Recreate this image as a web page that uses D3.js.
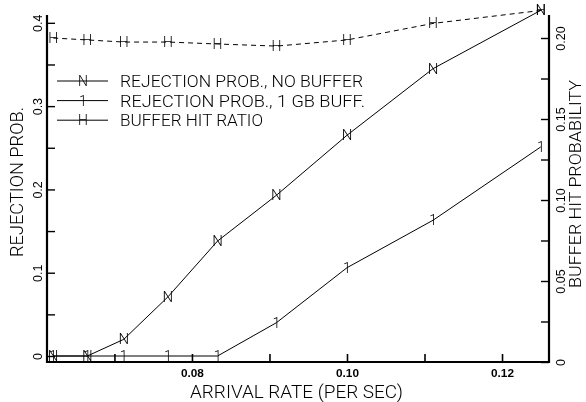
<!DOCTYPE html>
<html>
<head>
<meta charset="utf-8">
<script src="https://cdn.jsdelivr.net/npm/d3@7"></script>
<style>
  html, body { margin: 0; padding: 0; background: #fff; }
  svg { display: block; will-change: transform; }
  text { font-family: Roboto, "Liberation Sans", sans-serif; fill: #000; }
</style>
</head>
<body>
<svg id="chart" width="586" height="402"></svg>
<script>
// Arrival rate (per second) for each simulated load level
const rate = [0.0621, 0.0665, 0.0712, 0.0769, 0.0833, 0.0909, 0.1000, 0.1111, 0.1250];
// Rejection probability without any buffer
const rejectNoBuffer = [0, 0, 0.020, 0.071, 0.138, 0.193, 0.265, 0.345, 0.415];
// Rejection probability with a 1 GB buffer
const rejectBuffer1GB = [0, 0, 0, 0, 0, 0.040, 0.106, 0.163, 0.251];
// Buffer hit ratio (right axis)
const bufferHit = [0.200, 0.1988, 0.1975, 0.1975, 0.1963, 0.195, 0.1988, 0.209, 0.217];

const xMajor = [0.08, 0.10, 0.12];
const xMinor = [0.07, 0.09, 0.11];
const leftMajor = [0, 0.1, 0.2, 0.3, 0.4];
const leftMinor = [0.05, 0.15, 0.25, 0.35];
const rightMajor = [0, 0.05, 0.10, 0.15, 0.20];
const rightMinor = [0.025, 0.075, 0.125, 0.175];

const legendItems = [
  { label: "REJECTION PROB., NO BUFFER", mark: "N", len: 243 },
  { label: "REJECTION PROB., 1 GB BUFF.", mark: "1", len: 245 },
  { label: "BUFFER HIT RATIO", mark: "H", len: 143 }
];

const svg = d3.select("#chart");
const L = 47, R = 549, T = 15, B = 362;

const x = d3.scaleLinear().domain([0.0613, 0.12606]).range([L, R]);
const yL = d3.scaleLinear().domain([-0.0072, 0.4094]).range([B, T]);
const yR = d3.scaleLinear().domain([0, 0.2142]).range([B, T]);

const tickLen = 8;

// Bottom axis: inward ticks, labels below
const gx = svg.append("g").attr("transform", `translate(0,${B})`);
gx.call(d3.axisBottom(x).tickValues(xMajor.concat(xMinor)).tickSize(-tickLen)
  .tickFormat(d => xMajor.includes(d) ? d3.format(".2f")(d) : ""));
gx.select(".domain").remove();
gx.selectAll(".tick line").attr("stroke", "#000").attr("stroke-width", 1.6);
gx.selectAll(".tick text").attr("y", 15).attr("dy", null)
  .style("font-family", "'Liberation Sans', Arial, sans-serif")
  .style("font-weight", "bold").style("font-size", "11px")
  .attr("textLength", 23).attr("lengthAdjust", "spacingAndGlyphs");

// Left axis: inward ticks, rotated labels
const gl = svg.append("g").attr("transform", `translate(${L},0)`);
gl.call(d3.axisLeft(yL).tickValues(leftMajor.concat(leftMinor)).tickSize(-tickLen)
  .tickFormat(d => leftMajor.includes(d) ? (d === 0 ? "0" : d3.format(".1f")(d)) : ""));
gl.select(".domain").remove();
gl.selectAll(".tick line").attr("stroke", "#000").attr("stroke-width", 1.4);
gl.selectAll(".tick text").attr("transform", "rotate(-90)")
  .attr("x", 0).attr("y", -5).attr("dy", null).attr("text-anchor", "middle")
  .style("font-family", "'Liberation Sans', Arial, sans-serif").style("font-size", "12.5px");

// Right axis: inward ticks, rotated labels
const gr = svg.append("g").attr("transform", `translate(${R},0)`);
gr.call(d3.axisRight(yR).tickValues(rightMajor.concat(rightMinor)).tickSize(-tickLen)
  .tickFormat(d => rightMajor.includes(d) ? (d === 0 ? "0" : d3.format(".2f")(d)) : ""));
gr.select(".domain").remove();
gr.selectAll(".tick line").attr("stroke", "#000").attr("stroke-width", 1.4);
gr.selectAll(".tick text").attr("transform", "rotate(-90)")
  .attr("x", 0).attr("y", 16).attr("dy", null).attr("text-anchor", "middle")
  .style("font-family", "'Liberation Sans', Arial, sans-serif").style("font-size", "12.5px");

// Frame lines (left, bottom, right)
svg.append("path")
  .attr("d", `M${L},${T}V${B}H${R}V${T}`)
  .attr("fill", "none").attr("stroke", "#000").attr("stroke-width", 2.2);

// Series lines
const lineL = d3.line().x((d, i) => x(rate[i])).y(d => yL(d));
const lineR = d3.line().x((d, i) => x(rate[i])).y(d => yR(d));

svg.append("path").datum(rejectBuffer1GB).attr("d", lineL)
  .attr("fill", "none").attr("stroke", "#000").attr("stroke-width", 1);
svg.append("path").datum(rejectNoBuffer).attr("d", lineL)
  .attr("fill", "none").attr("stroke", "#000").attr("stroke-width", 1);
svg.append("path").datum(bufferHit).attr("d", lineR)
  .attr("fill", "none").attr("stroke", "#000").attr("stroke-width", 1)
  .attr("stroke-dasharray", "5,4");

// Glyph markers
function markers(data, scale, glyph, size) {
  svg.append("g").selectAll("text").data(data).join("text")
    .attr("x", (d, i) => x(rate[i])).attr("y", d => scale(d))
    .attr("text-anchor", "middle").attr("dominant-baseline", "central")
    .style("font-size", size + "px").style("font-weight", 300)
    .text(glyph);
}
markers(rejectNoBuffer, yL, "N", 15);
markers(rejectBuffer1GB, yL, "1", 14);
markers(bufferHit, yR, "H", 14);

// Legend
const lg = svg.append("g");
legendItems.forEach((it, i) => {
  const cy = 81 + i * 19.6;
  lg.append("line").attr("x1", 57).attr("x2", 108).attr("y1", cy).attr("y2", cy)
    .attr("stroke", "#000").attr("stroke-width", 1);
  lg.append("text").attr("x", 83).attr("y", cy)
    .attr("text-anchor", "middle").attr("dominant-baseline", "central")
    .style("font-size", "14px").style("font-weight", 300).text(it.mark);
  lg.append("text").attr("x", 120).attr("y", cy + 6)
    .style("font-size", "16.5px").style("font-weight", 300)
    .attr("textLength", it.len).attr("lengthAdjust", "spacingAndGlyphs")
    .text(it.label);
});

// Axis titles
svg.append("text").attr("x", 190).attr("y", 398)
  .style("font-size", "18px").style("font-weight", 300)
  .attr("textLength", 213).attr("lengthAdjust", "spacingAndGlyphs")
  .text("ARRIVAL RATE (PER SEC)");

svg.append("text").attr("transform", "translate(23,257) rotate(-90)")
  .style("font-size", "18px").style("font-weight", 300)
  .attr("textLength", 150).attr("lengthAdjust", "spacingAndGlyphs")
  .text("REJECTION PROB.");

svg.append("text").attr("transform", "translate(581,288) rotate(-90)")
  .style("font-size", "16.5px").style("font-weight", 300)
  .attr("textLength", 208).attr("lengthAdjust", "spacingAndGlyphs")
  .text("BUFFER HIT PROBABILITY");
</script>
</body>
</html>
